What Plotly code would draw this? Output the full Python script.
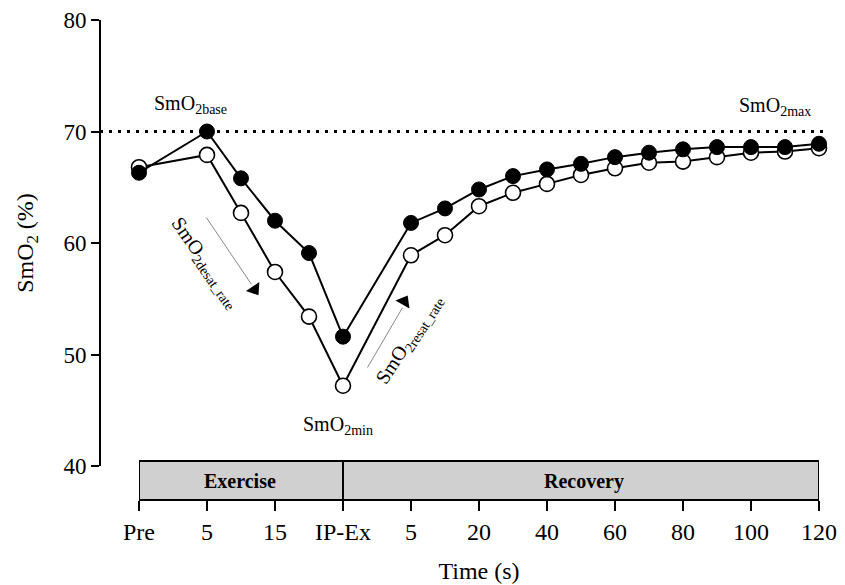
import plotly.graph_objects as go

# ---- data ----
x_pos = [0, 2, 3, 4, 5, 6, 8, 9, 10, 11, 12, 13, 14, 15, 16, 17, 18, 19, 20]
filled_vals = [66.3, 70.0, 65.8, 62.0, 59.1, 51.6,
               61.8, 63.1, 64.8, 66.0, 66.6, 67.1, 67.7, 68.1, 68.4, 68.6, 68.6, 68.6, 68.9]
open_vals = [66.8, 67.9, 62.7, 57.4, 53.4, 47.2,
             58.9, 60.7, 63.3, 64.5, 65.3, 66.1, 66.7, 67.2, 67.3, 67.7, 68.1, 68.2, 68.5]
tick_vals = [0, 2, 4, 6, 8, 10, 12, 14, 16, 18, 20]
tick_text = ["Pre", "5", "15", "IP-Ex", "5", "20", "40", "60", "80", "100", "120"]
y_ticks = [40, 50, 60, 70, 80]
ref_level = 70

FONT = "Liberation Serif, Times New Roman, serif"

fig = go.Figure()

fig.add_trace(go.Scatter(
    x=x_pos, y=open_vals, mode="lines+markers",
    line=dict(color="black", width=2),
    marker=dict(symbol="circle", size=15, color="white", line=dict(color="black", width=1.6)),
    cliponaxis=False, showlegend=False))
fig.add_trace(go.Scatter(
    x=x_pos, y=filled_vals, mode="lines+markers",
    line=dict(color="black", width=2),
    marker=dict(symbol="circle", size=15, color="black", line=dict(color="black", width=1)),
    cliponaxis=False, showlegend=False))

# arrow heads
fig.add_trace(go.Scatter(
    x=[3.4, 7.8], y=[55.83, 54.75], mode="markers",
    marker=dict(symbol="triangle-up", size=14, color="black", angle=[146, 30]),
    cliponaxis=False, showlegend=False, hoverinfo="skip"))

PH = 492 - 12  # plot height in px
PW = 811 - 92  # plot width in px
shapes = []
# dotted reference line
shapes.append(dict(type="line", xref="paper", yref="y", x0=0, x1=1 + 5 / PW,
                   y0=ref_level, y1=ref_level,
                   line=dict(color="black", width=3, dash="3px,6px")))
# arrows lines
shapes.append(dict(type="line", xref="x", yref="y", x0=1.98, y0=62.29, x1=3.31, y1=56.28,
                   line=dict(color="#888888", width=1)))
shapes.append(dict(type="line", xref="x", yref="y", x0=6.72, y0=48.83, x1=7.75, y1=54.2,
                   line=dict(color="#888888", width=1)))
# phase boxes
box_top = 39 / PH
shapes.append(dict(type="rect", xref="x", yref="paper", x0=0, x1=6, y0=0, y1=box_top,
                   fillcolor="#d0d0d0", line=dict(color="black", width=2), layer="below"))
shapes.append(dict(type="rect", xref="x", yref="paper", x0=6, x1=20, y0=0, y1=box_top,
                   fillcolor="#d0d0d0", line=dict(color="black", width=2), layer="below"))

ann = []
def label(x, y, text, size=20, angle=0, xref="x", yref="y"):
    ann.append(dict(x=x, y=y, xref=xref, yref=yref, text=text, showarrow=False,
                    textangle=angle, font=dict(family=FONT, size=size, color="black"),
                    xanchor="center", yanchor="middle"))

label(1.5, 72.4, "SmO<sub>2base</sub>")
label(18.7, 72.2, "SmO<sub>2max</sub>")
label(5.85, 43.6, "SmO<sub>2min</sub>")
label(1.97, 58.2, "SmO<sub>2desat_rate</sub>", angle=55)
label(7.95, 51.35, "SmO<sub>2resat_rate</sub>", angle=-57)
label(2.96, 19 / PH, "<b>Exercise</b>", size=20, yref="paper")
label(13.1, 19 / PH, "<b>Recovery</b>", size=20, yref="paper")

fig.update_layout(
    width=845, height=585,
    margin=dict(l=92, r=845 - 811, t=12, b=93, autoexpand=False),
    paper_bgcolor="white", plot_bgcolor="white",
    font=dict(family=FONT, size=24, color="black"),
    shapes=shapes, annotations=ann,
    xaxis=dict(domain=[39 / PW, 1], range=[0, 20], anchor="free", position=0,
               automargin=False,
               showgrid=False, zeroline=False, showline=True, linecolor="black", linewidth=2,
               ticks="outside", ticklen=10, tickwidth=2, tickcolor="black",
               tickvals=tick_vals, ticktext=tick_text,
               tickfont=dict(family=FONT, size=24),
               title=dict(text="Time (s)", font=dict(family=FONT, size=24), standoff=17)),
    yaxis=dict(domain=[34 / PH, 1], range=[40, 80], anchor="free", position=0,
               automargin=False,
               showgrid=False, zeroline=False, showline=True, linecolor="black", linewidth=2,
               ticks="outside", ticklen=8, tickwidth=2, tickcolor="black",
               tickvals=y_ticks, tickfont=dict(family=FONT, size=23),
               title=dict(text="SmO<sub>2</sub> (%)", font=dict(family=FONT, size=24), standoff=22)),
)

fig.write_html("out.html")
